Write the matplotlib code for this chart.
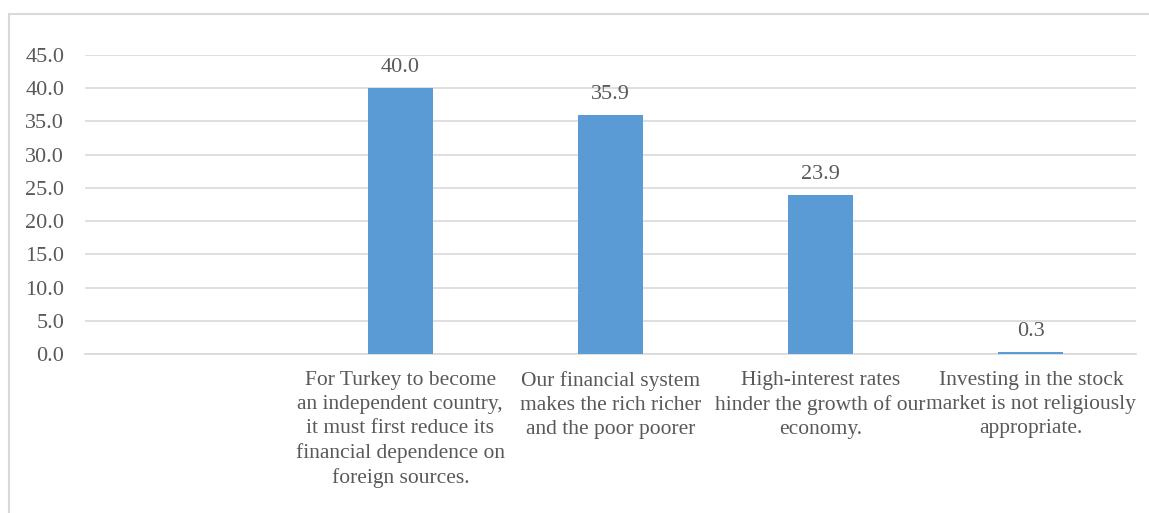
import matplotlib.pyplot as plt
from matplotlib.lines import Line2D
import numpy as np

# categories (first slot is empty in the original chart)
categories = [
    "",
    "For Turkey to become\nan independent country,\nit must first reduce its\nfinancial dependence on\nforeign sources.",
    "Our financial system\nmakes the rich richer\nand the poor poorer",
    "High-interest rates\nhinder the growth of our\neconomy.",
    "Investing in the stock\nmarket is not religiously\nappropriate.",
]
values = [np.nan, 40.0, 35.9, 23.9, 0.3]
yticks = [0, 5, 10, 15, 20, 25, 30, 35, 40, 45]

text_col = "#595959"
grid_col = "#d9d9d9"
bar_col = "#5b9bd5"

plt.rcParams['font.family'] = ['Liberation Serif', 'DejaVu Serif']

fig = plt.figure(figsize=(11.49, 5.13), dpi=100)
ax = fig.add_axes([85 / 1149, 1 - 354 / 513, (1136 - 85) / 1149, (354 - 55) / 513])

x = np.arange(len(categories))
bars = ax.bar(x, values, width=0.31, color=bar_col, zorder=3)

for xi, v in zip(x, values):
    if np.isnan(v):
        continue
    ax.annotate(f"{v:.1f}", (xi, v), xytext=(0, 8), textcoords="offset points",
                ha="center", va="bottom", fontsize=16, color=text_col)

ax.set_xlim(-0.5, len(categories) - 0.5)
ax.set_ylim(0, 45)
ax.set_yticks(yticks)
ax.set_yticklabels([f"{t:.1f}" for t in yticks], fontsize=16, color=text_col)
ax.set_xticks(x)
ax.set_xticklabels(categories, fontsize=15.5, color=text_col, linespacing=1.36)

ax.grid(axis="y", color=grid_col, linewidth=1.2, zorder=0)
ax.tick_params(axis="y", length=0, pad=15)
ax.tick_params(axis="x", length=0, pad=12)
for s in ["top", "right", "left"]:
    ax.spines[s].set_visible(False)
ax.spines["bottom"].set_color(grid_col)
ax.spines["bottom"].set_linewidth(1.2)

# outer chart border (top and left visible)
fig.add_artist(Line2D([8.5 / 1149, 1.0], [1 - 13.5 / 513, 1 - 13.5 / 513],
                      transform=fig.transFigure, color="#d9d9d9", linewidth=1.5))
fig.add_artist(Line2D([8.5 / 1149, 8.5 / 1149], [0, 1 - 13.5 / 513],
                      transform=fig.transFigure, color="#d9d9d9", linewidth=1.5))

fig.savefig("out.png", dpi=100)
